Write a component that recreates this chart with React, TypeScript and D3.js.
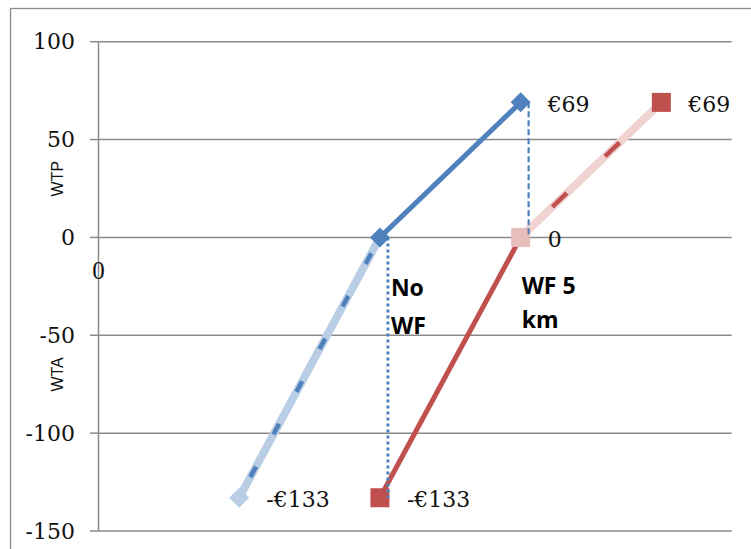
import React from "react";
import * as d3 from "d3";

// Scenario positions on the x axis and WTP / WTA values (€)
const yTicks = [100, 50, 0, -50, -100, -150];
const xTickLabels = [0];

const noWfWtp = [
  { x: 2, y: 0 },
  { x: 3, y: 69 },
];
const noWfWta = [
  { x: 2, y: 0 },
  { x: 1, y: -133 },
];
const wf5Wta = [
  { x: 2, y: -133 },
  { x: 3, y: 0 },
];
const wf5Wtp = [
  { x: 3, y: 0 },
  { x: 4, y: 69 },
];

const scenarioNames = ["No WF", "WF 5 km"];
const scenarioX = [2, 3];

const W = 751;
const H = 549;

const BLUE = "#4F81BD";
const LIGHT_BLUE = "#B9CDE5";
const RED = "#C0504D";
const PINK = "#F0D2D1";
const PINK_MARK = "#E8BDBC";
const GRID = "#8a8a8a";

const fmtEuro = (v: number) =>
  v === 0 ? "0" : `${v < 0 ? "-" : ""}€${Math.abs(v)}`;

export default function App() {
  const x = d3.scaleLinear().domain([0, 4.5]).range([98.5, 731.7]);
  const y = d3.scaleLinear().domain([-150, 100]).range([531, 41.7]);

  const line = d3
    .line<{ x: number; y: number }>()
    .x((d) => x(d.x))
    .y((d) => y(d.y));

  const diamond = (cx: number, cy: number, r: number) =>
    `M${cx},${cy - r}L${cx + r},${cy}L${cx},${cy + r}L${cx - r},${cy}Z`;

  const sq = 19;
  const serif = "'DejaVu Serif', serif";
  const labelFont = { fontFamily: serif, fontSize: 22 };

  const valuePoints = [
    { ...noWfWtp[1] },
    { ...wf5Wtp[1] },
    { ...wf5Wtp[0] },
    { ...noWfWta[1] },
    { ...wf5Wta[0] },
  ];

  return (
    <svg
      width={W}
      height={H}
      style={{ position: "absolute", left: 0, top: 0, background: "#fff" }}
    >
      {/* chart frame */}
      <rect
        x={10.5}
        y={8.5}
        width={W + 20}
        height={H + 20}
        fill="none"
        stroke={GRID}
        strokeWidth={1.3}
      />

      {/* horizontal gridlines, ticks and labels */}
      {yTicks.map((t) => (
        <g key={t}>
          <line
            x1={x(0)}
            x2={x(4.5)}
            y1={y(t)}
            y2={y(t)}
            stroke={GRID}
            strokeWidth={1.5}
          />
          <line
            x1={x(0) - 8.5}
            x2={x(0)}
            y1={y(t)}
            y2={y(t)}
            stroke={GRID}
            strokeWidth={1.5}
          />
          <text
            x={75}
            y={y(t)}
            textAnchor="end"
            dominantBaseline="central"
            fontFamily={serif}
            fontSize={22}
            fill="#111"
          >
            {t}
          </text>
        </g>
      ))}

      {/* vertical axis */}
      <line
        x1={x(0)}
        x2={x(0)}
        y1={y(100)}
        y2={y(-150)}
        stroke={GRID}
        strokeWidth={1.5}
      />
      {xTickLabels.map((t) => (
        <text
          key={t}
          x={x(t)}
          y={y(0) + 33}
          textAnchor="middle"
          dominantBaseline="central"
          fontFamily="'Liberation Serif', serif"
          fontSize={25}
          fill="#111"
        >
          {t}
        </text>
      ))}

      {/* axis titles */}
      <text
        transform={`translate(57,${y(30)}) rotate(-90)`}
        textAnchor="middle"
        dominantBaseline="central"
        fontFamily="'Liberation Sans', sans-serif"
        fontSize={16}
        fill="#111"
      >
        WTP
      </text>
      <text
        transform={`translate(57,${y(-70)}) rotate(-90)`}
        textAnchor="middle"
        dominantBaseline="central"
        fontFamily="'Liberation Sans', sans-serif"
        fontSize={16}
        fill="#111"
      >
        WTA
      </text>

      {/* faded WTA segment for No WF */}
      <path d={line(noWfWta)!} fill="none" stroke={LIGHT_BLUE} strokeWidth={8} />
      <path
        d={line(noWfWta)!}
        fill="none"
        stroke={BLUE}
        strokeWidth={4.5}
        strokeDasharray="12 36.5"
        strokeDashoffset={-18}
      />

      {/* faded WTP segment for WF 5 km */}
      <path d={line(wf5Wtp)!} fill="none" stroke={PINK} strokeWidth={8} />
      <path
        d={line(wf5Wtp)!}
        fill="none"
        stroke={RED}
        strokeWidth={4.5}
        strokeDasharray="20 53"
        strokeDashoffset={29}
      />

      {/* solid segments */}
      <path d={line(noWfWtp)!} fill="none" stroke={BLUE} strokeWidth={5} />
      <path d={line(wf5Wta)!} fill="none" stroke={RED} strokeWidth={5} />

      {/* markers */}
      <rect
        x={x(wf5Wta[0].x) - sq / 2}
        y={y(wf5Wta[0].y) - sq / 2}
        width={sq}
        height={sq}
        fill={RED}
      />
      <rect
        x={x(wf5Wtp[0].x) - sq / 2}
        y={y(wf5Wtp[0].y) - sq / 2}
        width={sq}
        height={sq}
        fill={PINK_MARK}
      />
      <rect
        x={x(wf5Wtp[1].x) - sq / 2}
        y={y(wf5Wtp[1].y) - sq / 2}
        width={sq}
        height={sq}
        fill={RED}
      />
      <path d={diamond(x(noWfWta[1].x), y(noWfWta[1].y), 10)} fill={LIGHT_BLUE} />
      {noWfWtp.map((p, i) => (
        <path key={i} d={diamond(x(p.x), y(p.y), 10)} fill={BLUE} />
      ))}

      {/* drop lines from the No WF and WF 5 km points */}
      <line
        x1={x(scenarioX[0]) + 8}
        x2={x(scenarioX[0]) + 8}
        y1={y(noWfWtp[0].y)}
        y2={y(wf5Wta[0].y)}
        stroke={BLUE}
        strokeWidth={3}
        strokeDasharray="3 3"
      />
      <line
        x1={x(scenarioX[1]) + 8}
        x2={x(scenarioX[1]) + 8}
        y1={y(noWfWtp[1].y)}
        y2={y(wf5Wtp[0].y)}
        stroke={BLUE}
        strokeWidth={2.2}
        strokeDasharray="6 3"
      />

      {/* value labels */}
      {valuePoints.map((p, i) => (
        <text
          key={i}
          x={x(p.x) + 27}
          y={y(p.y) + 2}
          dominantBaseline="central"
          {...labelFont}
          fill="#111"
        >
          {fmtEuro(p.y)}
        </text>
      ))}

      {/* scenario labels */}
      <text
        x={x(scenarioX[0]) + 11}
        y={296}
        fontFamily="'Open Sans', sans-serif"
        fontWeight={700}
        fontSize={23}
        fill="#000"
      >
        <tspan x={x(scenarioX[0]) + 11}>{scenarioNames[0].split(" ")[0]}</tspan>
        <tspan x={x(scenarioX[0]) + 11} dy={38}>
          {scenarioNames[0].split(" ")[1]}
        </tspan>
      </text>
      <text
        x={x(scenarioX[1]) + 1}
        y={294}
        fontFamily="'Open Sans', sans-serif"
        fontWeight={700}
        fontSize={23}
        fill="#000"
      >
        <tspan x={x(scenarioX[1]) + 1}>
          {scenarioNames[1].split(" ").slice(0, 2).join(" ")}
        </tspan>
        <tspan x={x(scenarioX[1]) + 1} dy={34}>
          {scenarioNames[1].split(" ")[2]}
        </tspan>
      </text>
    </svg>
  );
}
